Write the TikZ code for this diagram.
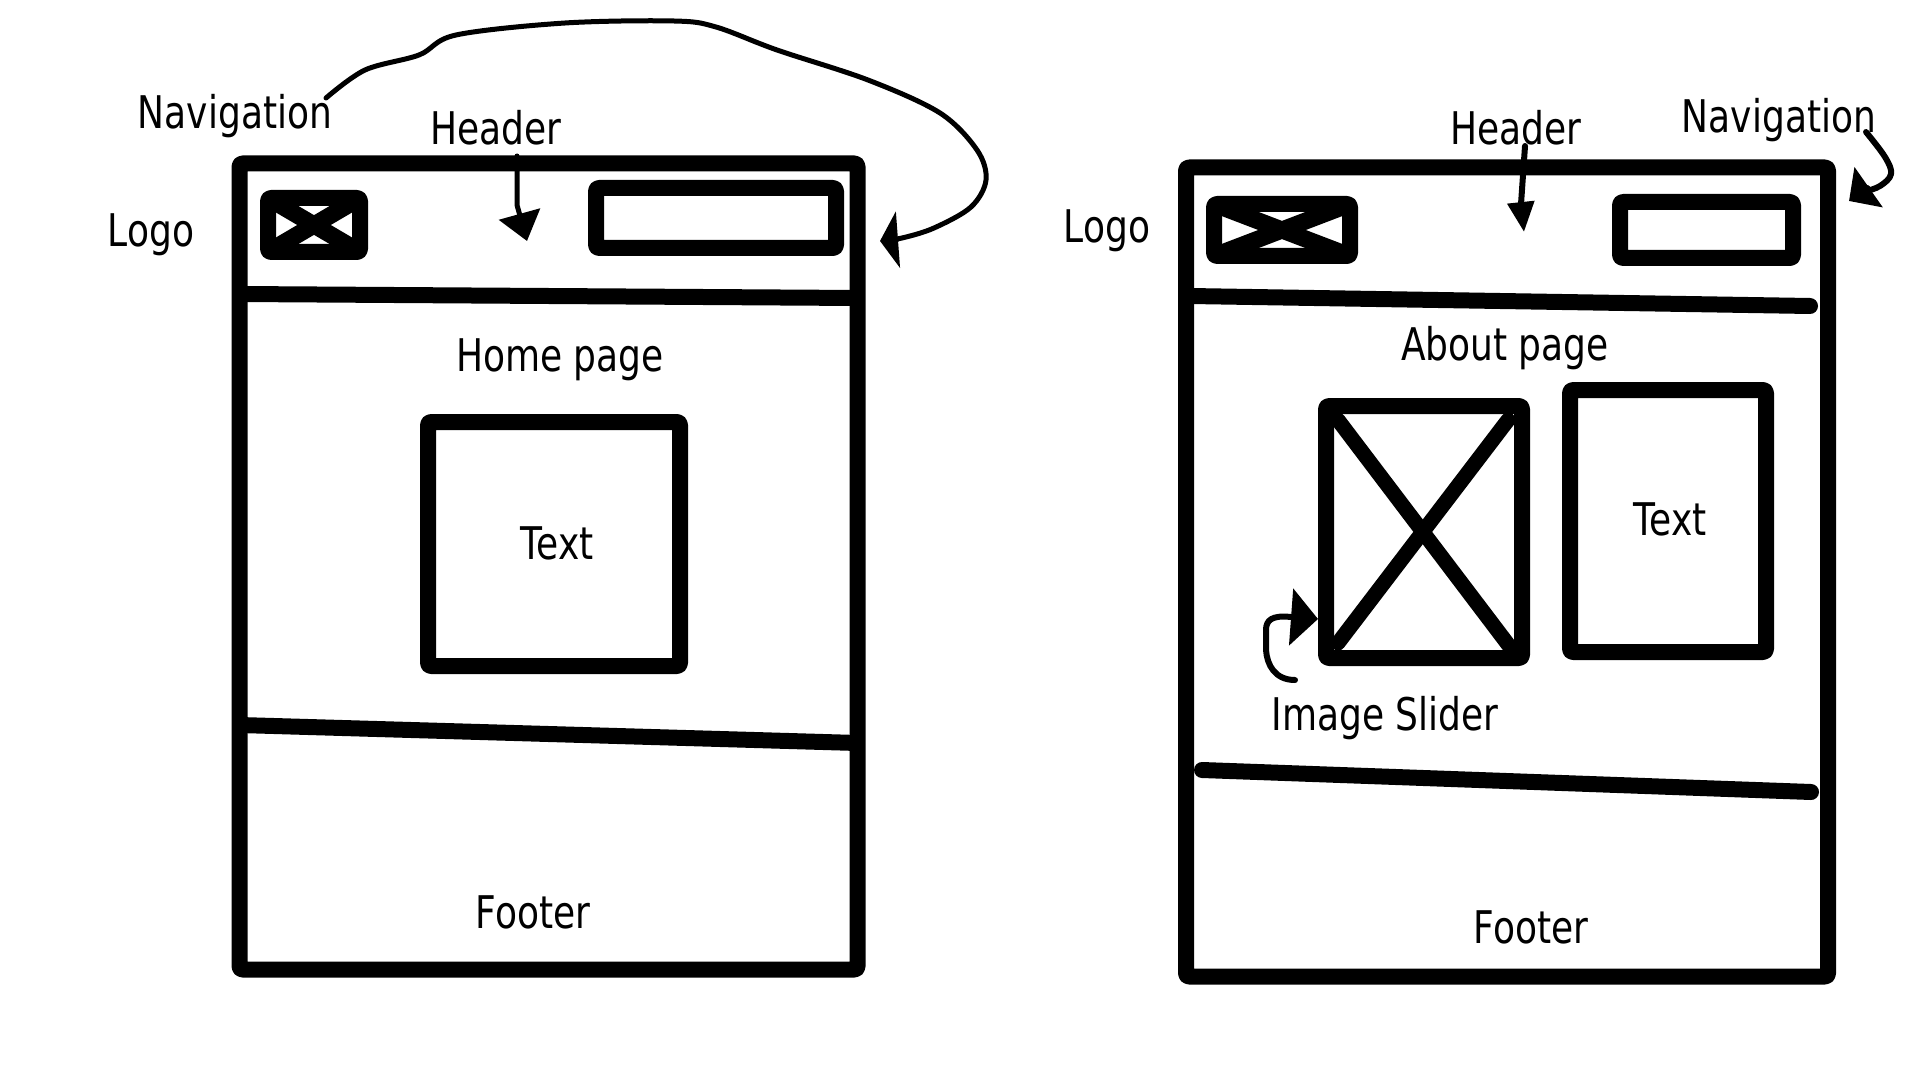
\documentclass[tikz,border=0pt]{standalone}
\usepackage{fontspec}
\setmainfont[FakeStretch=0.8]{DejaVu Sans}
\usetikzlibrary{arrows.meta}

\begin{document}
\begin{tikzpicture}[
    x=0.5pt, y=-0.5pt,
    line join=round,
    page_frame/.style={rectangle, draw, line width=8pt, rounded corners=1.5pt, inner sep=0pt, outer sep=0pt},
    inner_box/.style={page_frame},
    label_node/.style={anchor=base, inner sep=0pt, yshift=-0.6pt, font=\fontsize{22.5}{27}\selectfont},
    divider/.style={line width=8pt},
    logo_cross/.style={line width=8.5pt, shorten <=3pt, shorten >=3pt},
    cross_line/.style={line width=7.5pt, line cap=round},
    thin_wire/.style={line width=2.5pt, line cap=round}
    ]
    \useasboundingbox (0,0) rectangle (1920,1080);

    % Home page wireframe
    \node[page_frame, minimum width=309pt, minimum height=403pt] (frame_l) at (548.5,566.5) {};
    \node[inner_box, minimum width=46pt, minimum height=27pt] (logo_l) at (314,225) {};
    \node[inner_box, minimum width=120pt, minimum height=30pt] (search_l) at (716,218) {};
    \node[inner_box, minimum width=126pt, minimum height=122pt] (text_l) at (554,544) {};
    \draw[logo_cross] (logo_l.north west) -- (logo_l.south east);
    \draw[logo_cross] (logo_l.north east) -- (logo_l.south west);
    \draw[divider] (frame_l.west |- 0,294) -- (frame_l.east |- 0,298);
    \draw[divider] (frame_l.west |- 0,725) -- (frame_l.east |- 0,743);

    % About page wireframe
    \node[page_frame, minimum width=321pt, minimum height=404.5pt] (frame_r) at (1507,572) {};
    \node[inner_box, minimum width=68pt, minimum height=26pt] (logo_r) at (1282,230) {};
    \node[inner_box, minimum width=86.5pt, minimum height=28pt] (search_r) at (1706.5,230) {};
    \node[inner_box, minimum width=98pt, minimum height=126pt] (slider) at (1424,532) {};
    \node[inner_box, minimum width=98pt, minimum height=131pt] (text_r) at (1668,521) {};
    \draw[logo_cross] (logo_r.north west) -- (logo_r.south east);
    \draw[logo_cross] (logo_r.north east) -- (logo_r.south west);
    \draw[cross_line] ([shift={(12,14)}]slider.north west) -- ([shift={(-12,-11)}]slider.south east);
    \draw[cross_line] ([shift={(-14,14)}]slider.north east) -- ([shift={(12,-15)}]slider.south west);
    \draw[divider, line cap=round] (1190,296) -- (1810,306);
    \draw[divider, line cap=round] (1202,770) -- (1811,792);

    % Labels
    \node[label_node] (nav_l) at (235,127) {Navigation};
    \node[label_node] (head_l) at (496,143) {Header};
    \node[label_node] (brand_l) at (151,245) {Logo};
    \node[label_node] (home) at (560,370) {Home page};
    \node[label_node] (body_l) at (557,558) {Text};
    \node[label_node] (foot_l) at (533,927) {Footer};
    \node[label_node] (nav_r) at (1779,131) {Navigation};
    \node[label_node] (head_r) at (1516,143) {Header};
    \node[label_node] (brand_r) at (1107,241) {Logo};
    \node[label_node] (about) at (1505,359) {About page};
    \node[label_node] (body_r) at (1670,534) {Text};
    \node[label_node] (slider_name) at (1385,729) {Image Slider};
    \node[label_node] (foot_r) at (1531,942) {Footer};

    % Arrow ends
    \coordinate (nav_l_start) at (326,98);
    \coordinate (nav_l_end) at (880,241);
    \coordinate (head_l_start) at (517,156);
    \coordinate (head_l_end) at (527,241);
    \coordinate (nav_r_start) at (1866,132);
    \coordinate (nav_r_end) at (1849,201);
    \coordinate (head_r_start) at (1525,146);
    \coordinate (head_r_end) at (1524,232);
    \coordinate (slider_start) at (1295,680);
    \coordinate (slider_end) at (1318,619);

    % Arrows
    \draw[thin_wire, -{Triangle[length=9pt, width=28pt]}] plot[smooth, tension=0.55] coordinates {(nav_l_start) (365,70) (419,55) (456,35) (565,23) (674,21) (716,27) (777,50) (868,80) (940,113) (977,150) (986,180) (971,207) (934,228) (902,238) (nav_l_end)};
    \draw[thin_wire, -{Triangle[length=14pt, width=21pt]}] (head_l_start) -- (517,205) -- (head_l_end);
    \draw[thin_wire, line width=3pt, -{Triangle[length=15pt, width=13pt]}] (head_r_start) -- (1521,204) -- (head_r_end);
    \draw[thin_wire, line width=3pt, -{Triangle[length=12pt, width=24pt]}] plot[smooth, tension=0.6] coordinates {(nav_r_start) (1885,157) (1891,174) (1880,186) (1862,193) (nav_r_end)};
    \draw[thin_wire, line width=3pt, -{Triangle[length=13.5pt, width=28pt]}] (slider_start) .. controls (1275,680) and (1267,665) .. (1266,650) -- (1266,630) .. controls (1266,620) and (1272,615) .. (1291,617) -- (slider_end);
\end{tikzpicture}
\end{document}
